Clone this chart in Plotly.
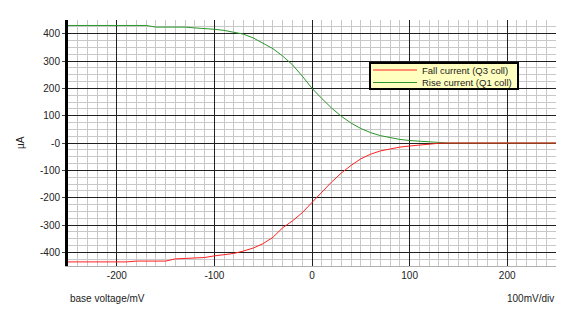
import plotly.graph_objects as go

# base voltage (mV)
x_mv = [-250, -240, -230, -220, -210, -200, -190, -180, -170, -160, -150, -140, -130, -120, -110,
        -100, -90, -80, -70, -60, -50, -40, -30, -20, -10, 0, 10, 20, 30, 40, 50, 60, 70, 80, 90,
        100, 110, 120, 130, 140, 150, 160, 170, 180, 190, 200, 210, 220, 230, 240, 250]

fall_current = [-435, -435, -435, -435, -435, -435, -435, -432, -432, -432, -432, -424, -423, -422, -419,
                -413, -409, -404, -395, -384, -368, -345, -310, -285, -255, -217, -178, -143, -110, -82,
                -58, -41, -29, -21, -15, -11, -7, -4, -1, 0, 0, 0, 0, 0, 0, 0, 0, 0, 0, 0, 0]

rise_current = [430, 430, 430, 430, 430, 430, 430, 430, 430, 424, 424, 424, 424, 421, 419,
                416, 412, 406, 398, 384, 366, 345, 318, 286, 245, 200, 163, 128, 98, 73,
                53, 38, 27, 19, 13, 9, 6, 4, 2, 0, 0, 0, 0, 0, 0, 0, 0, 0, 0, 0, 0]

series_names = ["Fall current (Q3 coll)", "Rise current (Q1 coll)"]
series_colors = ["#ff2020", "#2a962a"]

x_ticks = [-200, -100, 0, 100, 200]
x_ticklabels = ["-200", "-100", "0", "100", "200"]
y_ticks = [400, 300, 200, 100, 0, -100, -200, -300, -400]
y_ticklabels = ["400", "300", "200", "100", "-0", "-100", "-200", "-300", "-400"]

FONT = "Liberation Sans, Arial, sans-serif"
FS = 10

fig = go.Figure()
# green drawn first so red overlays it on the zero line, as in the reference
fig.add_trace(go.Scatter(x=x_mv, y=rise_current, mode="lines", name=series_names[1],
                         line=dict(color=series_colors[1], width=1)))
fig.add_trace(go.Scatter(x=x_mv, y=fall_current, mode="lines", name=series_names[0],
                         line=dict(color=series_colors[0], width=1)))

# plot area in pixels: x 68..556, y 20..266
PL, PR, PT, PB = 68, 556, 20, 266
def px(x):
    return (x - PL) / (PR - PL)
def py(y):
    return 1 - (y - PT) / (PB - PT)

shapes = [
    dict(type="rect", xref="paper", yref="paper", x0=px(370), x1=px(518), y0=py(89), y1=py(63),
         fillcolor="#ffffc0", line=dict(color="black", width=2), layer="above"),
]
annotations = [
    dict(text="µA", xref="paper", yref="paper", x=px(20), y=py(143), textangle=-90,
         showarrow=False, xanchor="center", yanchor="middle", font=dict(size=FS)),
    dict(text="base voltage/mV", xref="paper", yref="paper", x=0.0, y=py(298),
         showarrow=False, xanchor="left", yanchor="middle", font=dict(size=FS)),
    dict(text="100mV/div", xref="paper", yref="paper", x=1.0, y=py(298),
         showarrow=False, xanchor="right", yanchor="middle", font=dict(size=FS)),
]
for i, (nm, col) in enumerate(zip(series_names, series_colors)):
    yy = 70 + i * 12.5
    shapes.append(dict(type="line", xref="paper", yref="paper", x0=px(373), x1=px(417),
                       y0=py(yy), y1=py(yy), line=dict(color=col, width=1), layer="above"))
    annotations.append(dict(text=nm, xref="paper", yref="paper", x=px(420), y=py(yy),
                            showarrow=False, xanchor="left", yanchor="middle",
                            font=dict(size=9.5, color="#222")))

fig.update_layout(
    width=570, height=318,
    margin=dict(l=PL, r=570 - PR, t=PT, b=318 - PB),
    paper_bgcolor="white", plot_bgcolor="white",
    font=dict(family=FONT, size=FS, color="#222"),
    showlegend=False,
    xaxis=dict(range=[-250, 250], tickvals=x_ticks, ticktext=x_ticklabels,
               showgrid=True, gridcolor="#202020", gridwidth=1,
               minor=dict(dtick=10, showgrid=True, gridcolor="#c8c8c8", gridwidth=1),
               zeroline=False, showline=True, linecolor="#b0b0b0", linewidth=1,
               ticks="", ticklen=0, tickfont=dict(family=FONT, size=FS)),
    yaxis=dict(range=[-450, 450], tickvals=y_ticks, ticktext=y_ticklabels,
               showgrid=True, gridcolor="#202020", gridwidth=1,
               minor=dict(dtick=25, showgrid=True, gridcolor="#c8c8c8", gridwidth=1),
               zeroline=False, showline=True, linecolor="black", linewidth=3,
               ticks="outside", ticklen=3, tickcolor="#444",
               tickfont=dict(family=FONT, size=FS)),
    shapes=shapes,
    annotations=annotations,
)

fig.write_html("out.html")
